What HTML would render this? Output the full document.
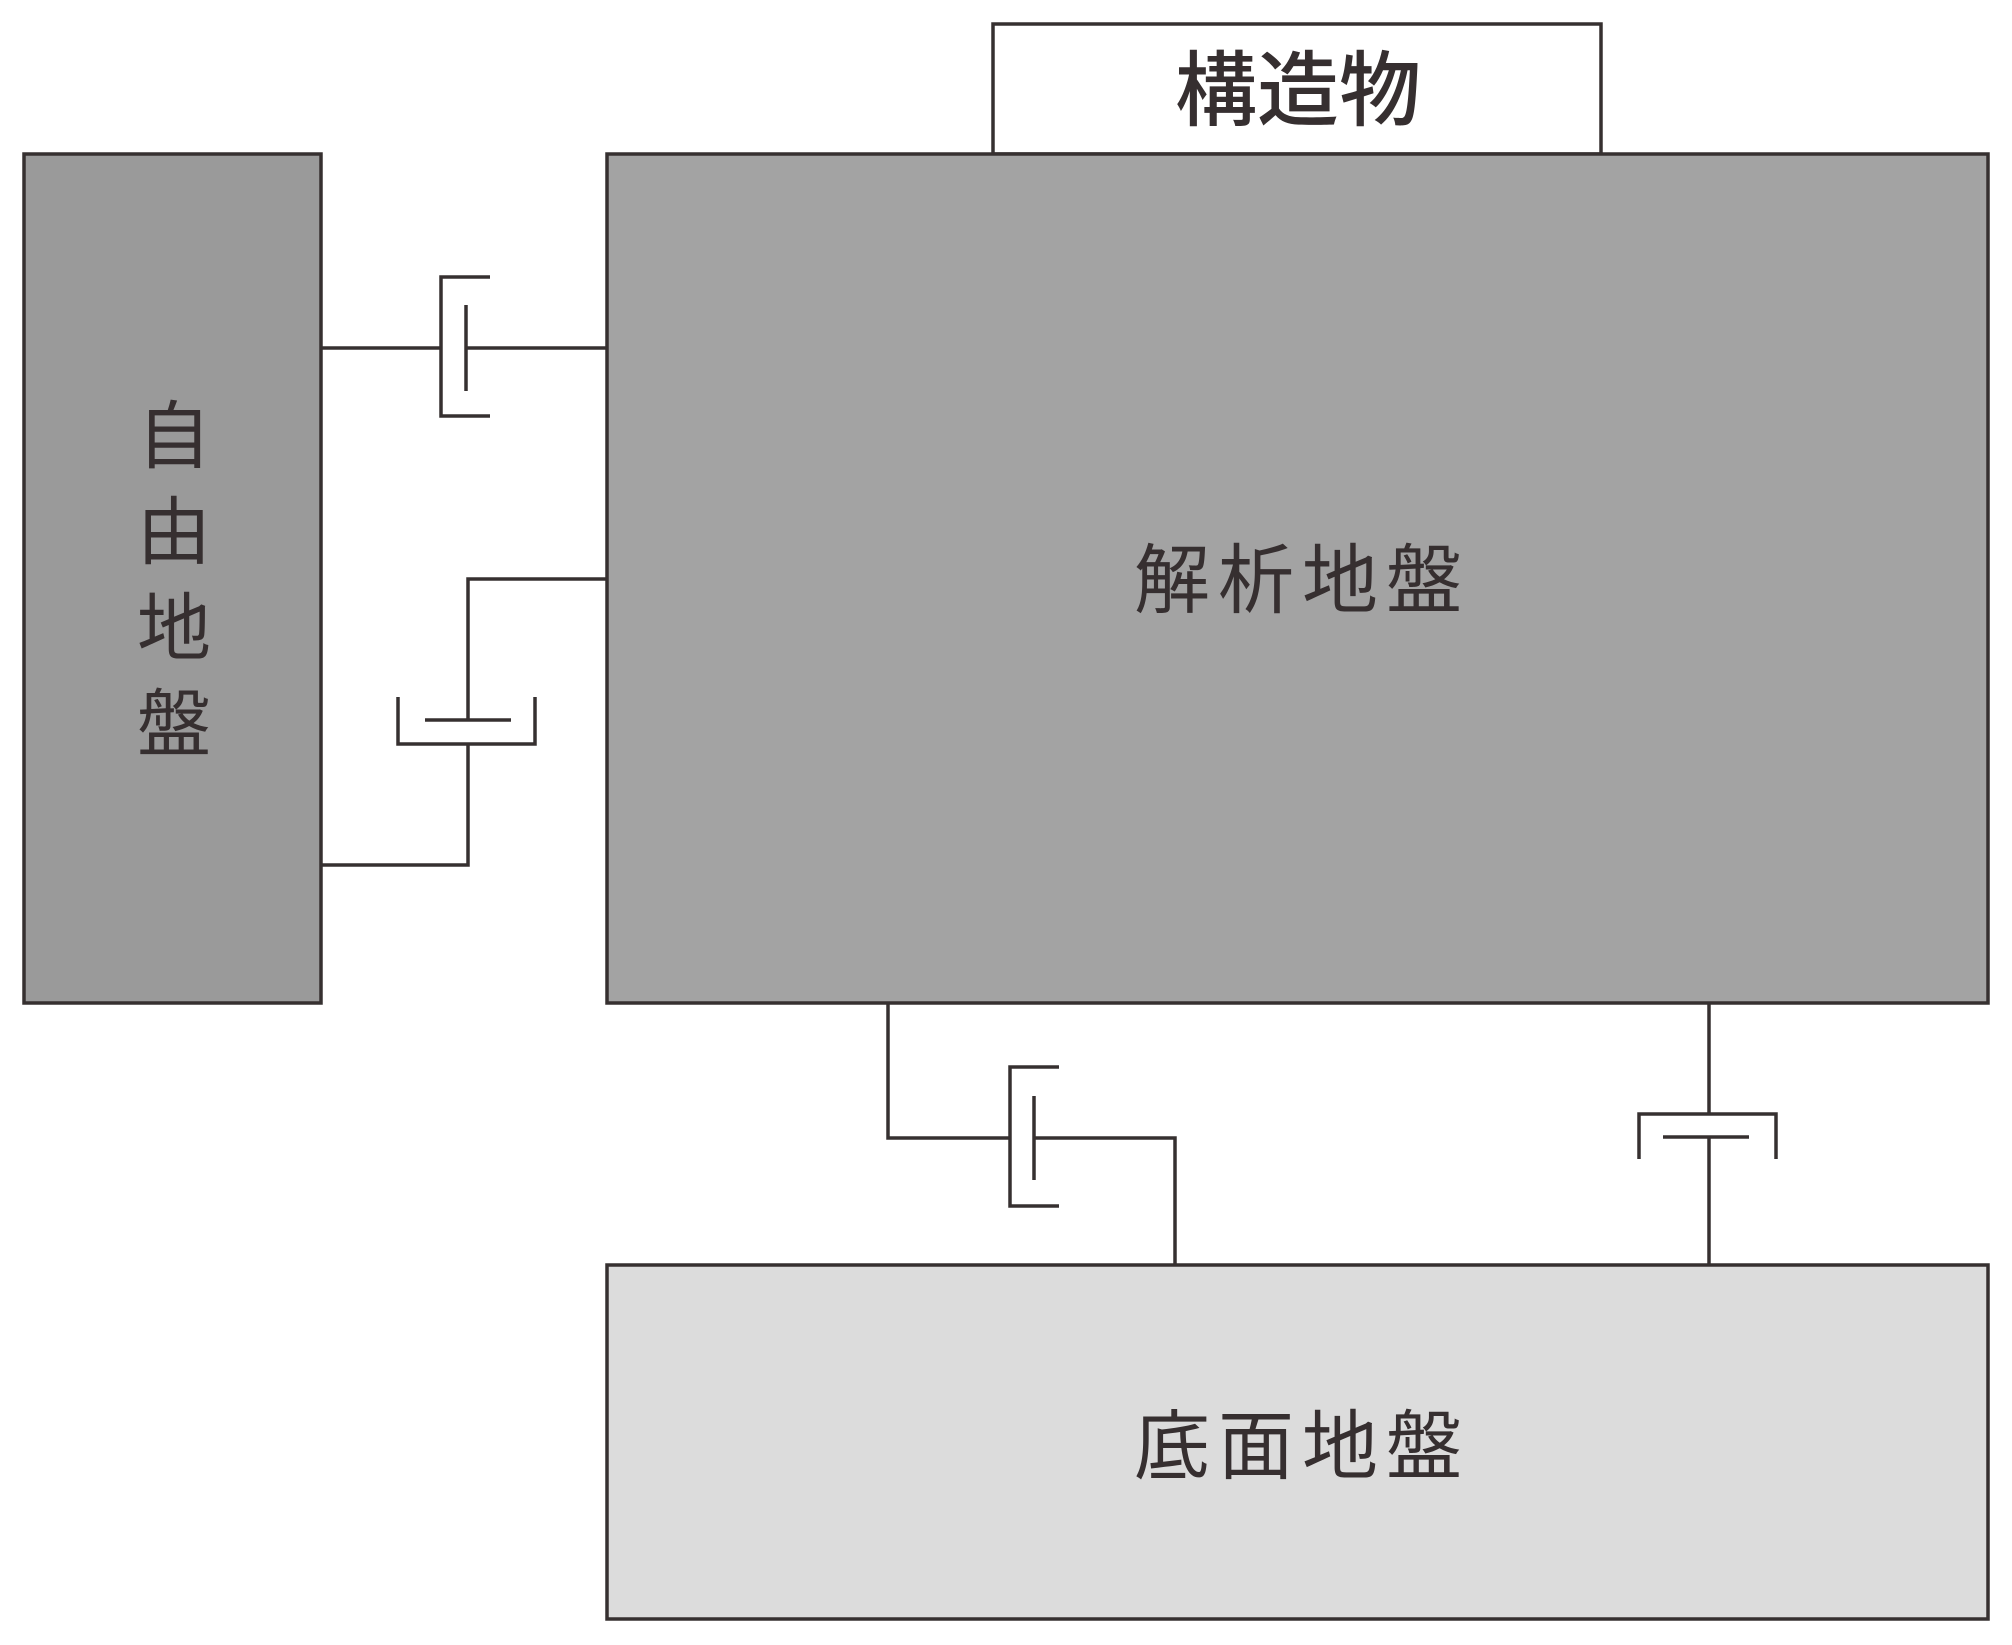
<!DOCTYPE html>
<html><head><meta charset="utf-8"><style>
html,body{margin:0;padding:0;background:#fff;}
svg{display:block;}
text{font-family:"Liberation Sans","Noto Sans CJK JP",sans-serif;fill:#362f30;}
</style></head><body>
<svg width="2012" height="1645" viewBox="0 0 2012 1645" xmlns="http://www.w3.org/2000/svg">
<g stroke="#363030" stroke-width="3.5" fill="none">
<rect x="993" y="24" width="608" height="130" fill="#fff"/>
<rect x="24" y="154" width="297" height="849" fill="#9a9a9a"/>
<rect x="607" y="154" width="1381" height="849" fill="#a3a3a3"/>
<rect x="607" y="1265" width="1381" height="354" fill="#dcdcdc"/>
<line x1="321" y1="348" x2="441" y2="348"/>
<polyline points="490,277 441,277 441,416 490,416"/>
<line x1="466" y1="305" x2="466" y2="391"/>
<line x1="466" y1="348" x2="607" y2="348"/>
<polyline points="607,579 468,579 468,720"/>
<line x1="425" y1="720" x2="511" y2="720"/>
<polyline points="398,697 398,744 535,744 535,697"/>
<polyline points="468,744 468,865 321,865"/>
<polyline points="888,1003 888,1138 1010,1138"/>
<polyline points="1059,1067 1010,1067 1010,1206 1059,1206"/>
<line x1="1034" y1="1096" x2="1034" y2="1180"/>
<polyline points="1034,1138 1175,1138 1175,1265"/>
<line x1="1709" y1="1003" x2="1709" y2="1114"/>
<polyline points="1639,1159 1639,1114 1776,1114 1776,1159"/>
<line x1="1663" y1="1137" x2="1749" y2="1137"/>
<line x1="1709" y1="1137" x2="1709" y2="1265"/>
</g>
<text x="1298" y="119" font-size="82" font-weight="500" text-anchor="middle">構造物</text>
<text x="1302" y="607" font-size="76" letter-spacing="8" text-anchor="middle">解析地盤</text>
<text x="1302" y="1473" font-size="76" letter-spacing="8" text-anchor="middle">底面地盤</text>
<g font-size="74" text-anchor="middle">
<text x="174" y="462">自</text>
<text x="174" y="558">由</text>
<text x="174" y="654">地</text>
<text x="174" y="750">盤</text>
</g>
</svg>
</body></html>
